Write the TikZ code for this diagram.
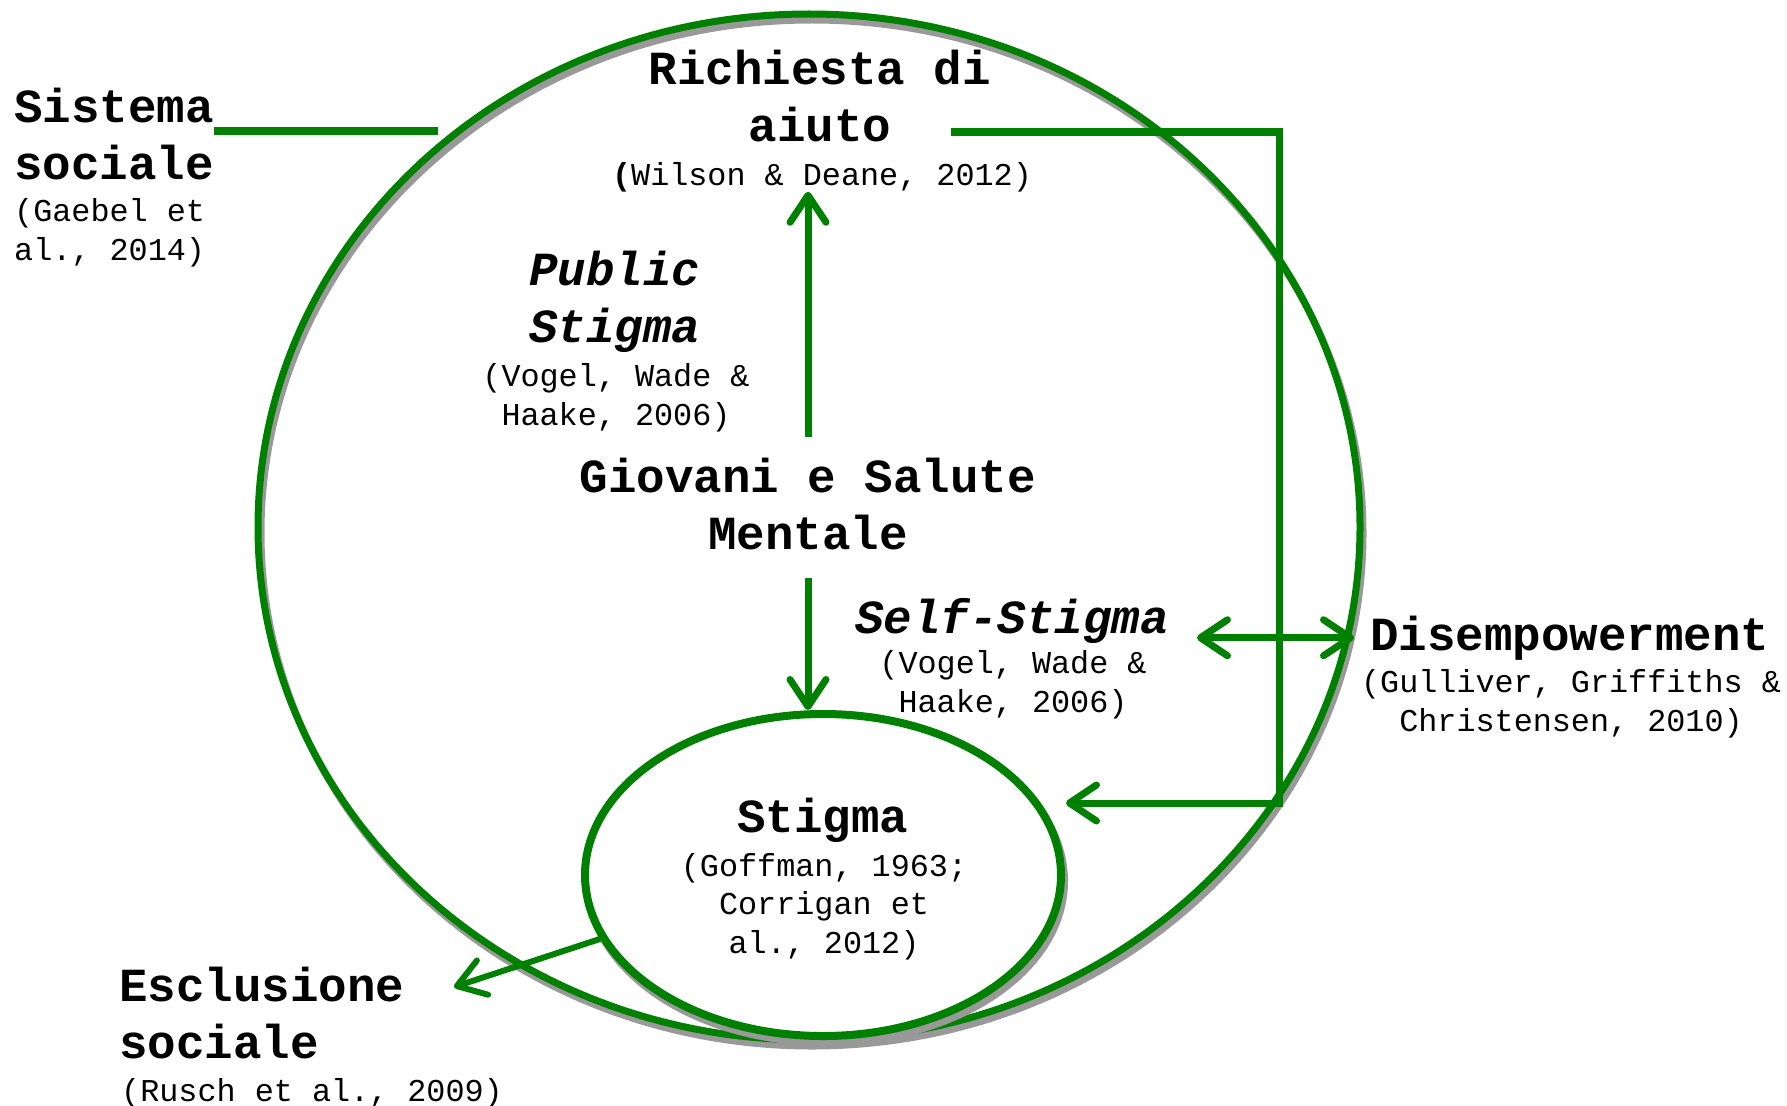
\documentclass[tikz,border=0pt]{standalone}
\usepackage{fontspec}
\usepackage{tikz}
\usetikzlibrary{arrows.meta,shapes.geometric}
\setmonofont{Liberation Mono}
\definecolor{verde}{RGB}{0,128,0}

\begin{document}
\begin{tikzpicture}[x=1pt,y=1pt,yscale=-1,xscale=1,
  titolo/.style={font=\fontsize{47.5}{57}\selectfont\ttfamily\bfseries, inner sep=0pt},
  corsivo/.style={font=\fontsize{47.5}{57}\selectfont\ttfamily\bfseries\itshape, inner sep=0pt},
  fonte/.style={font=\fontsize{31.8}{38.5}\selectfont\ttfamily, inner sep=0pt},
  linea/.style={draw=verde, line width=7pt},
  punta/.tip={Straight Barb[length=27pt,width=36pt,round]},
  freccia/.style={linea, -punta},
  ombra/.style={preaction={draw=black!40, transform canvas={xshift=3pt,yshift=-6pt}}}]
\useasboundingbox (0,0) rectangle (1787,1105);

%Flowchart: Connector
\node [ellipse, draw=verde, line width=7pt, minimum width=1102pt, minimum height=1026pt, inner sep=0pt, ombra] (mondo) at (809,527) {};
%Flowchart: Connector
\node [ellipse, draw=verde, fill=white, line width=8pt, minimum width=476pt, minimum height=322pt, inner sep=0pt, ombra] (stigma) at (823,875) {};

% Text Node
\node [titolo, anchor=base west, align=left] (sistema) at (14,179) {Sistema\\sociale};
\node [fonte, anchor=base west, align=left] (gaebel) at (14,260) {(Gaebel et\\al., 2014)};
% Text Node
\node [titolo, anchor=base, align=center] (richiesta) at (820,141) {Richiesta di\\aiuto};
\node [fonte, anchor=base] (wilson) at (822,185) {\textbf{(}Wilson \& Deane, 2012)};
% Text Node
\node [corsivo, anchor=base, align=center] (public) at (615,342) {Public\\Stigma};
\node [fonte, anchor=base, align=center] (vogela) at (616,425) {(Vogel, Wade \&\\Haake, 2006)};
% Text Node
\node [titolo, anchor=base, align=center] (giovani) at (808,549) {Giovani e Salute\\Mentale};
% Text Node
\node [corsivo, anchor=base] (selfst) at (1012,633) {Self-Stigma};
\node [fonte, anchor=base, align=center] (vogelb) at (1013,712) {(Vogel, Wade \&\\Haake, 2006)};
% Text Node
\node [titolo, anchor=base west] (disemp) at (1370,650) {Disempowerment};
\node [fonte, anchor=base, align=center] (gulliver) at (1571,731) {(Gulliver, Griffiths \&\\Christensen, 2010)};
% Text Node
\node [titolo, anchor=base] (stigmatxt) at (823,832) {Stigma};
\node [fonte, anchor=base, align=center] (goffman) at (824,953) {(Goffman, 1963;\\Corrigan et\\al., 2012)};
% Text Node
\node [titolo, anchor=base west, align=left] (esclusione) at (119,1058) {Esclusione\\sociale};
\node [fonte, anchor=base west] (rusch) at (121,1101) {(Rusch et al., 2009)};

%Straight Lines
\coordinate (s0) at (438,131);
\draw [linea] (sistema.east |- s0) -- (s0);
%Straight Lines
\coordinate (r0) at (951,132);
\coordinate (r1) at (1279,132);
\coordinate (r2) at (1279,803);
\coordinate (r3) at (1066,803);
\draw [freccia, line join=miter] (r0) -- (r1) -- (r2) -- (r3);
%Straight Lines
\draw [freccia, shorten <=20pt] (giovani.north) -- (giovani.north |- wilson.south);
%Straight Lines
\draw [freccia, shorten <=28pt] (giovani.south) -- (giovani.south |- stigma.north);
%Straight Lines
\draw [linea, punta-punta, shorten <=28pt, shorten >=16pt] (selfst.east |- disemp.west) -- (disemp.west);
%Straight Lines
\coordinate (e0) at (454,987);
\draw [freccia, line width=6pt] (stigma.196) -- (e0);

\end{tikzpicture}
\end{document}
